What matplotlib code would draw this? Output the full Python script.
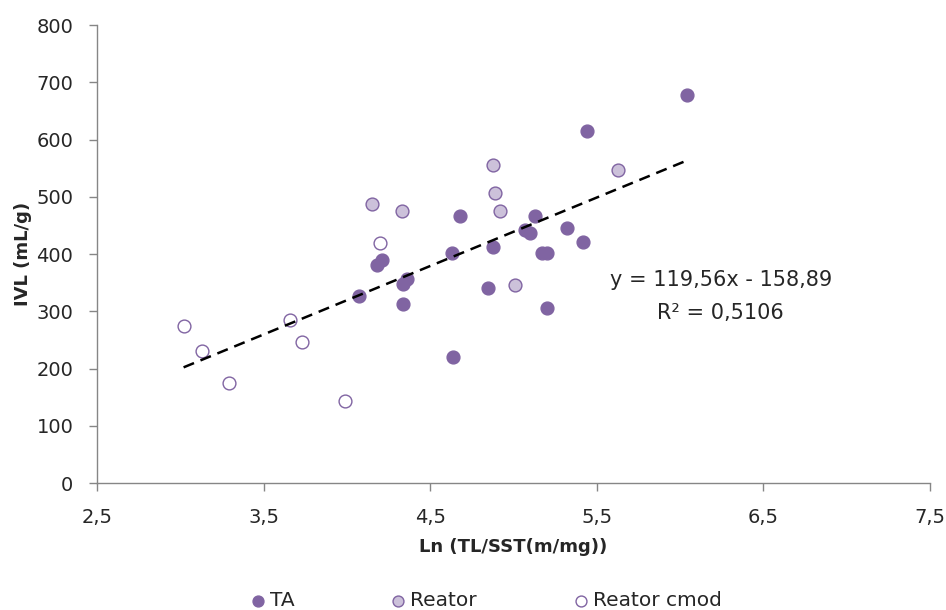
import matplotlib
matplotlib.use("Agg")
import matplotlib.pyplot as plt
import numpy as np

plt.rcParams['font.family'] = ['DejaVu Sans']

# Data
ta_x = [4.68, 4.63, 4.88, 4.85, 4.64, 5.13, 5.07, 5.10, 5.17, 5.20, 5.20,
        4.07, 4.18, 4.21, 4.34, 4.36, 4.34, 6.04, 5.44, 5.32, 5.42]
ta_y = [466, 402, 413, 340, 220, 466, 442, 437, 401, 401, 305,
        327, 381, 390, 348, 357, 313, 677, 615, 446, 421]

reator_x = [4.15, 4.33, 4.88, 4.89, 4.92, 5.01, 5.63]
reator_y = [487, 476, 555, 506, 476, 346, 547]

cmod_x = [3.02, 3.13, 3.29, 3.66, 3.73, 3.99, 4.20]
cmod_y = [275, 231, 175, 285, 247, 143, 420]

slope = 119.56
intercept = -158.89
eq_text = "y = 119,56x - 158,89"
r2_text = "R² = 0,5106"

x_ticks = [2.5, 3.5, 4.5, 5.5, 6.5, 7.5]
x_tick_labels = ["2,5", "3,5", "4,5", "5,5", "6,5", "7,5"]
y_ticks = [0, 100, 200, 300, 400, 500, 600, 700, 800]

purple = '#8064A2'
light = '#CCC1DA'
gray = '#868686'
txt = '#262626'

fig = plt.figure(figsize=(9.46, 6.10), dpi=100)
ax = fig.add_axes([0.1025, 0.208, 0.8805, 0.751])

ms = 85
ax.scatter(ta_x, ta_y, s=ms, color=purple, edgecolors=purple, linewidths=1.0,
           zorder=3, label='TA')
ax.scatter(reator_x, reator_y, s=ms, color=light, edgecolors=purple, linewidths=1.0,
           zorder=3, label='Reator')
ax.scatter(cmod_x, cmod_y, s=ms, color='white', edgecolors=purple, linewidths=1.0,
           zorder=3, label='Reator cmod')

all_x = np.array(ta_x + reator_x + cmod_x)
xl = np.array([all_x.min(), all_x.max()])
ax.plot(xl, slope * xl + intercept, color='black', lw=1.8, ls=(0, (4.5, 2.8)), zorder=4)

ax.text(6.245, 344.6, eq_text, ha='center', va='baseline', fontsize=15, color=txt)
ax.text(6.245, 286.5, r2_text, ha='center', va='baseline', fontsize=15, color=txt)

ax.set_xlim(2.5, 7.5)
ax.set_ylim(0, 800)
ax.set_xticks(x_ticks)
ax.set_xticklabels(x_tick_labels)
ax.set_yticks(y_ticks)

for s in ['top', 'right']:
    ax.spines[s].set_visible(False)
for s in ['left', 'bottom']:
    ax.spines[s].set_color(gray)
    ax.spines[s].set_linewidth(1.0)

ax.tick_params(axis='both', colors=gray, labelcolor=txt, labelsize=14, length=6,
               direction='out', width=1.0)
ax.tick_params(axis='x', pad=12)
ax.tick_params(axis='y', pad=11)

ax.set_xlabel("Ln (TL/SST(m/mg))", fontsize=13, fontweight='bold', color=txt, labelpad=8)
ax.set_ylabel("IVL (mL/g)", fontsize=13, fontweight='bold', color=txt, labelpad=3)

leg = fig.legend(loc='center', bbox_to_anchor=(0.5125, 0.0148), ncol=3, frameon=False,
                 fontsize=14.5, handlelength=1.0, handletextpad=0.1, columnspacing=4.67,
                 markerscale=0.85, borderpad=0)
for t in leg.get_texts():
    t.set_color(txt)

fig.savefig('out.png', dpi=100)
